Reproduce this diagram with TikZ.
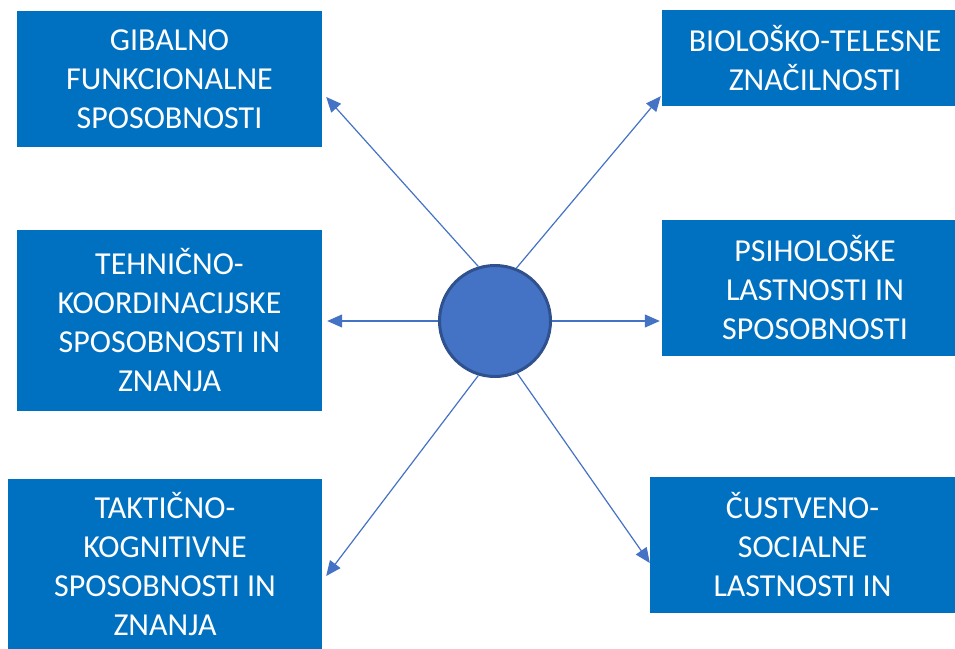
\documentclass[tikz,border=0pt]{standalone}
\usepackage{fontspec}
\setmainfont{Carlito}
\usepackage{tikz}
\usetikzlibrary{calc, positioning, arrows.meta}

\definecolor{BoxBlue}{HTML}{0070C0}
\definecolor{HubBlue}{HTML}{4472C4}
\definecolor{HubEdge}{HTML}{2F528F}

\begin{document}
\begin{tikzpicture}[x=1pt, y=-1pt,
    box/.style={fill=BoxBlue, text=white, inner sep=0pt, align=center,
      font=\fontsize{32pt}{39pt}\selectfont},
    hub/.style={circle, fill=HubBlue, draw=HubEdge, line width=3pt,
      inner sep=0pt, minimum size=111pt},
    arr/.style={HubBlue, line width=1.2pt,
      -{Triangle[length=15pt,width=13pt]}},
  ]
    \useasboundingbox (0,0) rectangle (955,648);

    \node[hub] (hub) at (495,321) {};

    \node[box, minimum width=305pt, minimum height=136pt] (gib) at (169.5,79)
      {GIBALNO\\FUNKCIONALNE\\SPOSOBNOSTI};
    \node[box, minimum width=306pt, minimum height=96pt] (bio) at (815,58)
      {BIOLOŠKO-TELESNE\\ZNAČILNOSTI};
    \node[box, minimum width=305pt, minimum height=181pt] (teh) at (169.5,320)
      {TEHNIČNO-\\KOORDINACIJSKE\\SPOSOBNOSTI IN\\ZNANJA};
    \node[box, minimum width=306pt, minimum height=136pt] (psi) at (815,288)
      {PSIHOLOŠKE\\LASTNOSTI IN\\SPOSOBNOSTI};
    \node[box, minimum width=314pt, minimum height=171pt] (tak) at (165,564)
      {TAKTIČNO-\\KOGNITIVNE\\SPOSOBNOSTI IN\\ZNANJA};
    \node[box, minimum width=305pt, minimum height=136pt] (cus) at (802.5,545)
      {ČUSTVENO-\\SOCIALNE\\LASTNOSTI IN};

    % connectors from the hub
    \draw[arr] (hub.107) -- ($(gib.east)+(4,18)$);
    \draw[arr] (hub.68) -- ($(bio.south west)+(-1,-10)$);
    \draw[arr] (hub.west) -- ($(teh.east |- hub.west)+(5,0)$);
    \draw[arr] (hub.east) -- ($(psi.west |- hub.east)+(-2,0)$);
    \draw[arr] (hub.253) -- ($(tak.east)+(4,12)$);
    \draw[arr] (hub.293) -- ($(cus.west)+(0,18)$);
\end{tikzpicture}
\end{document}
